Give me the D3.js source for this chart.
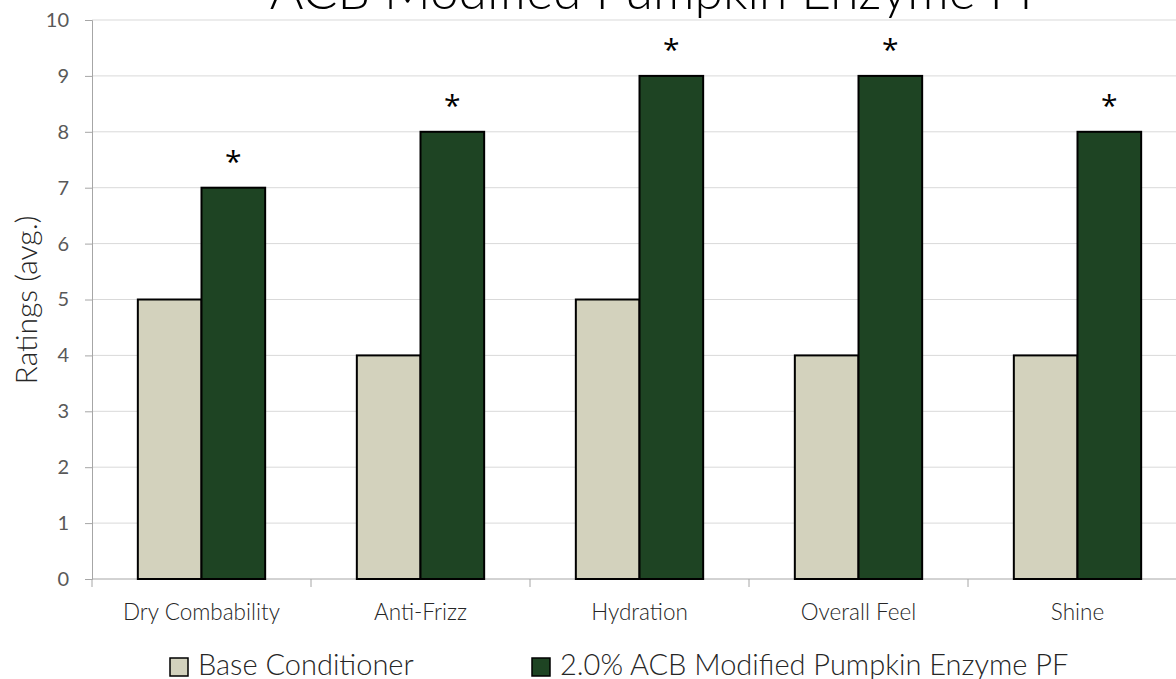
<!DOCTYPE html>
<html><head><meta charset="utf-8">
<script src="https://cdn.jsdelivr.net/npm/d3@7"></script>
<style>body{margin:0;background:#fff;overflow:hidden}</style>
</head><body>
<svg id="c" width="1176" height="679"></svg>
<script>
const categories = ["Dry Combability","Anti-Frizz","Hydration","Overall Feel","Shine"];
const seriesNames = ["Base Conditioner","2.0% ACB Modified Pumpkin Enzyme PF"];
const baseValues = [5,4,5,4,4];
const pfValues = [7,8,9,9,8];
const significant = ["*","*","*","*","*"];
const yTicks = [0,1,2,3,4,5,6,7,8,9,10];
const colors = ["#d3d2bd","#1e4423"];
const title = "ACB Modified Pumpkin Enzyme PF";
const yLabel = "Ratings (avg.)";

(function(){
const svg = d3.select("#c");
const font = "Lato, 'Open Sans', sans-serif";
const mL = 92, mR = 1187, mT = 20, mB = 579;
const x = d3.scaleBand().domain(categories).range([mL, mR]).paddingInner(0).paddingOuter(0);
const y = d3.scaleLinear().domain([0,10]).range([mB, mT]);
const inner = d3.scaleBand().domain([0,1]).range([0, x.bandwidth()]).paddingInner(0).paddingOuter(0.72);

svg.append("g").selectAll("line").data(yTicks.filter(d=>d>0)).join("line")
  .attr("x1", mL).attr("x2", 1176).attr("y1", d=>y(d)).attr("y2", d=>y(d))
  .attr("stroke", "#d9d9d9").attr("stroke-width", 1);

const ya = svg.append("g").attr("transform", `translate(${mL},0)`)
  .call(d3.axisLeft(y).tickValues(yTicks).tickSize(7).tickPadding(16));
ya.select(".domain").attr("stroke", "#a6a6a6");
ya.selectAll(".tick line").attr("stroke", "#a6a6a6");
ya.selectAll("text").attr("font-family", font).attr("font-size", 20).attr("fill", "#595959");

const xa = svg.append("g").attr("transform", `translate(0,${mB})`);
xa.append("line").attr("x1", mL).attr("x2", 1176).attr("y1",0).attr("y2",0).attr("stroke","#a6a6a6");
xa.selectAll(".tk").data(categories.concat(["end"])).join("line").attr("class","tk")
  .attr("x1", (d,i)=> mL + i*x.step()).attr("x2", (d,i)=> mL + i*x.step())
  .attr("y1",0).attr("y2",8).attr("stroke","#a6a6a6");
xa.selectAll("text").data(categories).join("text")
  .attr("x", d=>x(d)+x.bandwidth()/2).attr("y", 41)
  .attr("text-anchor","middle").attr("font-family", font).attr("font-weight", 300)
  .attr("font-size", 22.5).attr("fill","#262626")
  .text(d=>d);

const data = [baseValues, pfValues];
data.forEach((vals, s) => {
  svg.append("g").selectAll("rect").data(vals).join("rect")
    .attr("x", (d,i)=> x(categories[i]) + inner(s))
    .attr("y", d=> y(d))
    .attr("width", inner.bandwidth())
    .attr("height", d=> y(0)-y(d))
    .attr("fill", colors[s]).attr("stroke", "#000").attr("stroke-width", 2);
});

svg.append("g").selectAll("text").data(pfValues).join("text")
  .attr("x", (d,i)=> x(categories[i]) + inner(1) + inner.bandwidth()/2)
  .attr("y", d=> y(d) - 16)
  .attr("text-anchor","middle").attr("font-family", "'Open Sans', sans-serif").attr("font-size", 30).attr("fill","#000")
  .text((d,i)=>significant[i]);

svg.append("text").attr("x", 659).attr("y", 9).attr("text-anchor","middle")
  .attr("font-family", font).attr("font-weight", 300).attr("font-size", 51.5).attr("fill","#000")
  .text(title);

svg.append("text").attr("transform", `translate(37,300) rotate(-90)`).attr("text-anchor","middle")
  .attr("font-family", font).attr("font-weight", 300).attr("font-size", 30).attr("fill","#262626")
  .text(yLabel);

const leg = [{x:170, t:seriesNames[0], c:colors[0]},{x:532, t:seriesNames[1], c:colors[1]}];
const lg = svg.append("g");
leg.forEach(l => {
  lg.append("rect").attr("x", l.x).attr("y", 658).attr("width", 18).attr("height", 18)
    .attr("fill", l.c).attr("stroke","#000").attr("stroke-width",1.5);
  lg.append("text").attr("x", l.x+28).attr("y", 675).attr("font-family", font).attr("font-weight",300)
    .attr("font-size", 29).attr("fill","#262626").text(l.t);
});
})();
</script>
</body></html>
